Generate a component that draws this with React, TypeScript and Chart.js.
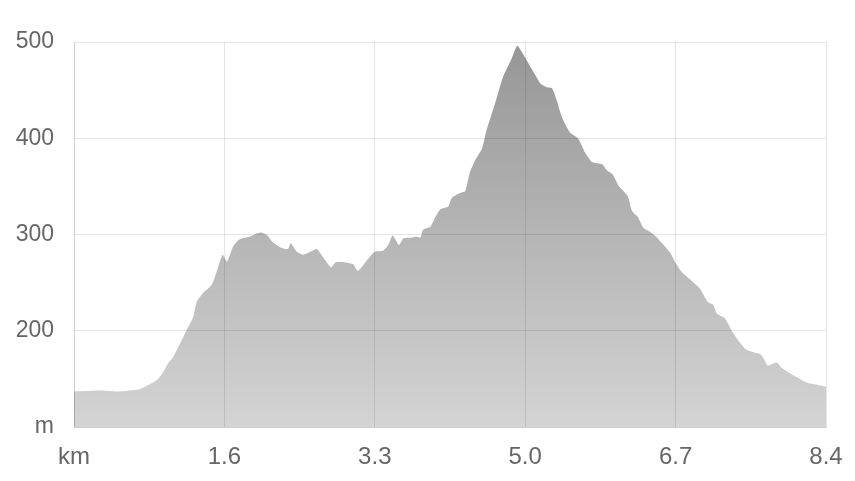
import React, { useEffect, useRef } from "react";
import { Chart, registerables } from "chart.js";

Chart.register(...registerables);

const distanceKm = [
  0.0, 0.32, 0.49, 0.74, 0.93, 0.99, 1.05, 1.11, 1.26, 1.33, 1.37, 1.44, 1.54, 1.6, 1.66, 1.71,
  1.78, 1.85, 1.97, 2.08, 2.16, 2.22, 2.32, 2.39, 2.42, 2.49, 2.56, 2.64, 2.71, 2.78, 2.87, 2.92,
  3.03, 3.12, 3.17, 3.27, 3.36, 3.45, 3.51, 3.56, 3.63, 3.68, 3.78, 3.82, 3.87, 3.9, 3.98, 4.03,
  4.09, 4.18, 4.22, 4.31, 4.37, 4.42, 4.48, 4.56, 4.61, 4.7, 4.79, 4.89, 4.95, 5.0, 5.07, 5.15,
  5.21, 5.24, 5.28, 5.34, 5.39, 5.45, 5.54, 5.63, 5.71, 5.79, 5.9, 5.95, 6.02, 6.08, 6.13, 6.19,
  6.23, 6.3, 6.36, 6.43, 6.51, 6.66, 6.71, 6.79, 6.91, 6.99, 7.08, 7.14, 7.18, 7.27, 7.36, 7.5,
  7.58, 7.66, 7.7, 7.75, 7.85, 7.91, 8.03, 8.19, 8.3, 8.4,
];

const elevationM = [
  137, 138, 137, 139.5, 149, 156, 166, 173, 201, 214, 230, 239, 248, 263, 279, 272,
  288, 295, 298, 302, 299, 292, 286, 285, 291, 282, 279, 282, 285, 277, 266, 271,
  271, 269, 262, 273, 282, 283, 289, 299, 289, 296, 297, 298, 297, 305, 308, 317,
  326, 329, 338, 343, 345, 364, 377, 390, 409, 435, 463, 483, 496, 490, 479, 466,
  457, 455, 453, 452, 440, 422, 406, 400, 385, 375, 373, 367, 362, 351, 346, 339,
  325, 318, 307, 303, 297, 281, 272, 261, 251, 244, 230, 227, 218, 213, 198, 181,
  178, 176, 172, 164, 167, 161, 154, 146, 144, 142,
];

const xTickValues = [0, 1.68, 3.36, 5.04, 6.72, 8.4];
const xTickLabels = ["km", "1.6", "3.3", "5.0", "6.7", "8.4"];
const yTickValues = [100, 200, 300, 400, 500];
const yTickLabels = ["m", "200", "300", "400", "500"];

export default function App() {
  const canvasRef = useRef<HTMLCanvasElement | null>(null);

  useEffect(() => {
    const canvas = canvasRef.current;
    if (!canvas) return;
    const points = distanceKm.map((x, i) => ({ x, y: elevationM[i] }));
    const chart = new Chart(canvas, {
      type: "line",
      data: {
        datasets: [
          {
            data: points,
            fill: "start",
            borderWidth: 0,
            borderColor: "rgba(0,0,0,0)",
            pointRadius: 0,
            tension: 0.2,
            backgroundColor: (ctx: any) => {
              const area = ctx.chart.chartArea;
              if (!area) return "rgba(0,0,0,0.3)";
              const g = ctx.chart.ctx.createLinearGradient(0, area.top, 0, area.bottom);
              g.addColorStop(0, "rgba(0,0,0,0.41)");
              g.addColorStop(1, "rgba(0,0,0,0.17)");
              return g;
            },
          },
        ],
      },
      options: {
        animation: false,
        responsive: true,
        maintainAspectRatio: false,
        layout: { padding: { left: 0, right: 29, top: 42, bottom: 0 } },
        plugins: { legend: { display: false }, tooltip: { enabled: false } },
        scales: {
          x: {
            type: "linear",
            min: 0,
            max: 8.4,
            afterBuildTicks: (scale: any) => {
              scale.ticks = xTickValues.map((v) => ({ value: v }));
            },
            afterFit: (scale: any) => {
              scale.height = 54;
              scale.paddingLeft = 0;
              scale.paddingRight = 0;
            },
            grid: { color: "rgba(0,0,0,0.1)", drawTicks: false },
            border: { display: true, color: "rgba(0,0,0,0.1)" },
            ticks: {
              autoSkip: false,
              maxRotation: 0,
              padding: 16,
              color: "#666",
              font: { family: "'Liberation Sans', Arial, sans-serif", size: 24 },
              callback: (_v: any, i: number) => xTickLabels[i],
            },
          },
          y: {
            min: 100,
            max: 500,
            afterBuildTicks: (scale: any) => {
              scale.ticks = yTickValues.map((v) => ({ value: v }));
            },
            afterFit: (scale: any) => {
              scale.width = 74;
            },
            grid: { color: "rgba(0,0,0,0.1)", drawTicks: false },
            border: { display: true, color: "rgba(0,0,0,0.1)" },
            ticks: {
              padding: 20,
              color: "#666",
              font: { family: "'Liberation Sans', Arial, sans-serif", size: 23 },
              callback: (_v: any, i: number) => yTickLabels[i],
            },
          },
        },
      },
    });
    return () => chart.destroy();
  }, []);

  return (
    <div style={{ position: "fixed", left: 0, top: 0, width: 855, height: 481 }}>
      <canvas ref={canvasRef} />
    </div>
  );
}
